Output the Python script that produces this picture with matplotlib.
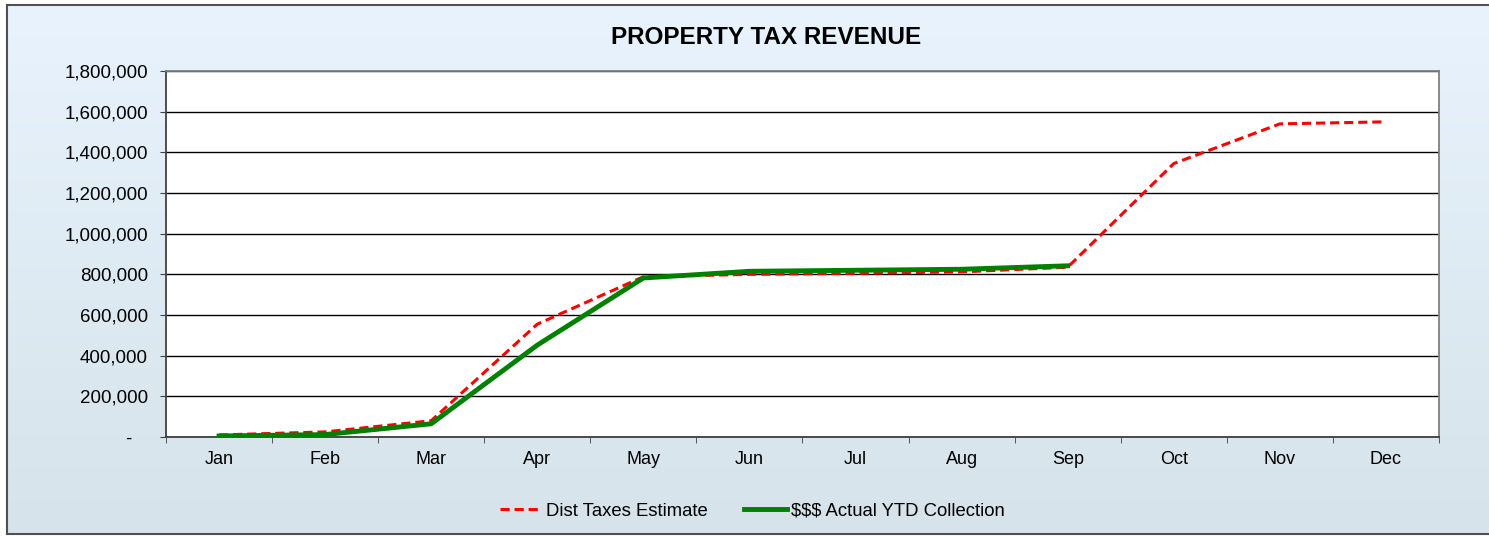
import numpy as np
import matplotlib
matplotlib.use('Agg')
import matplotlib.pyplot as plt
from matplotlib.ticker import FuncFormatter, FixedLocator

plt.rcParams['font.family'] = ['Liberation Sans', 'DejaVu Sans']

meses = ['Jan', 'Feb', 'Mar', 'Apr', 'May', 'Jun', 'Jul', 'Aug', 'Sep', 'Oct', 'Nov', 'Dec']
estimativa = [10000, 25000, 80000, 555000, 788000, 800000, 805000, 812000, 835000, 1345000, 1540000, 1550000]
meses_real = ['Jan', 'Feb', 'Mar', 'Apr', 'May', 'Jun', 'Jul', 'Aug', 'Sep']
real = [5000, 12000, 65000, 452000, 782000, 815000, 820000, 825000, 842000]

fig = plt.figure(figsize=(14.89, 5.36), dpi=100)
fig.patch.set_facecolor('white')

# fundo em degradê dentro da moldura
bg = fig.add_axes([7 / 1489, 2 / 536, 1.0, 529 / 536], zorder=0)
grad = np.linspace(0, 1, 256).reshape(-1, 1)
top = np.array([232, 243, 253]) / 255
bot = np.array([214, 227, 234]) / 255
img = top + (bot - top) * grad[:, :, None]
bg.imshow(img, aspect='auto', extent=[0, 1, 0, 1])
bg.set_xlim(0, 1)
bg.set_ylim(0, 1)
bg.set_xticks([])
bg.set_yticks([])
for s in bg.spines.values():
    s.set_color('#505050')
    s.set_linewidth(1.5)

ax = fig.add_axes([166 / 1489, 1 - 437 / 536, (1439 - 166) / 1489, (437 - 71) / 536], zorder=1)
ax.set_facecolor('white')

x = np.arange(len(meses))
ax.plot(x, estimativa, color='#ff0000', linestyle=(0, (3, 1.6)), linewidth=2.2, label='Dist Taxes Estimate', zorder=3)
ax.plot(np.arange(len(meses_real)), real, color='#008000', linewidth=3.5, label='$$$ Actual YTD Collection', zorder=4)

ax.set_xlim(-0.5, len(meses) - 0.5)
ax.set_ylim(0, 1800000)
ax.yaxis.set_major_locator(FixedLocator(np.arange(0, 1800001, 200000)))
ax.yaxis.set_major_formatter(FuncFormatter(lambda v, p: '-   ' if v == 0 else f'{int(v):,}'))
ax.grid(axis='y', color='black', linewidth=1)
ax.set_axisbelow(True)

ax.set_xticks(x)
ax.set_xticklabels(meses)
ax.set_xticks(np.arange(-0.5, len(meses)), minor=True)
ax.tick_params(axis='x', which='major', length=0, pad=10, labelsize=13)
ax.tick_params(axis='x', which='minor', length=4, color='#404040')
ax.tick_params(axis='y', length=4, color='#404040', labelsize=13.5, pad=9)

ax.spines['left'].set_color('#404040')
ax.spines['bottom'].set_color('#404040')
ax.spines['top'].set_color('#808080')
ax.spines['right'].set_color('#808080')
for s in ax.spines.values():
    s.set_linewidth(1.3)

fig.text(766 / 1489, 1 - 38 / 536, 'PROPERTY TAX REVENUE', ha='center', va='center', fontsize=17.5, fontweight='bold')

handles, labels = ax.get_legend_handles_labels()
fig.legend(handles, labels, loc='center', bbox_to_anchor=(752 / 1489, 1 - 511 / 536), ncol=2, frameon=False,
           fontsize=13.3, handlelength=2.3, columnspacing=2.0, handletextpad=0.2)

fig.savefig('out.png', dpi=100)
